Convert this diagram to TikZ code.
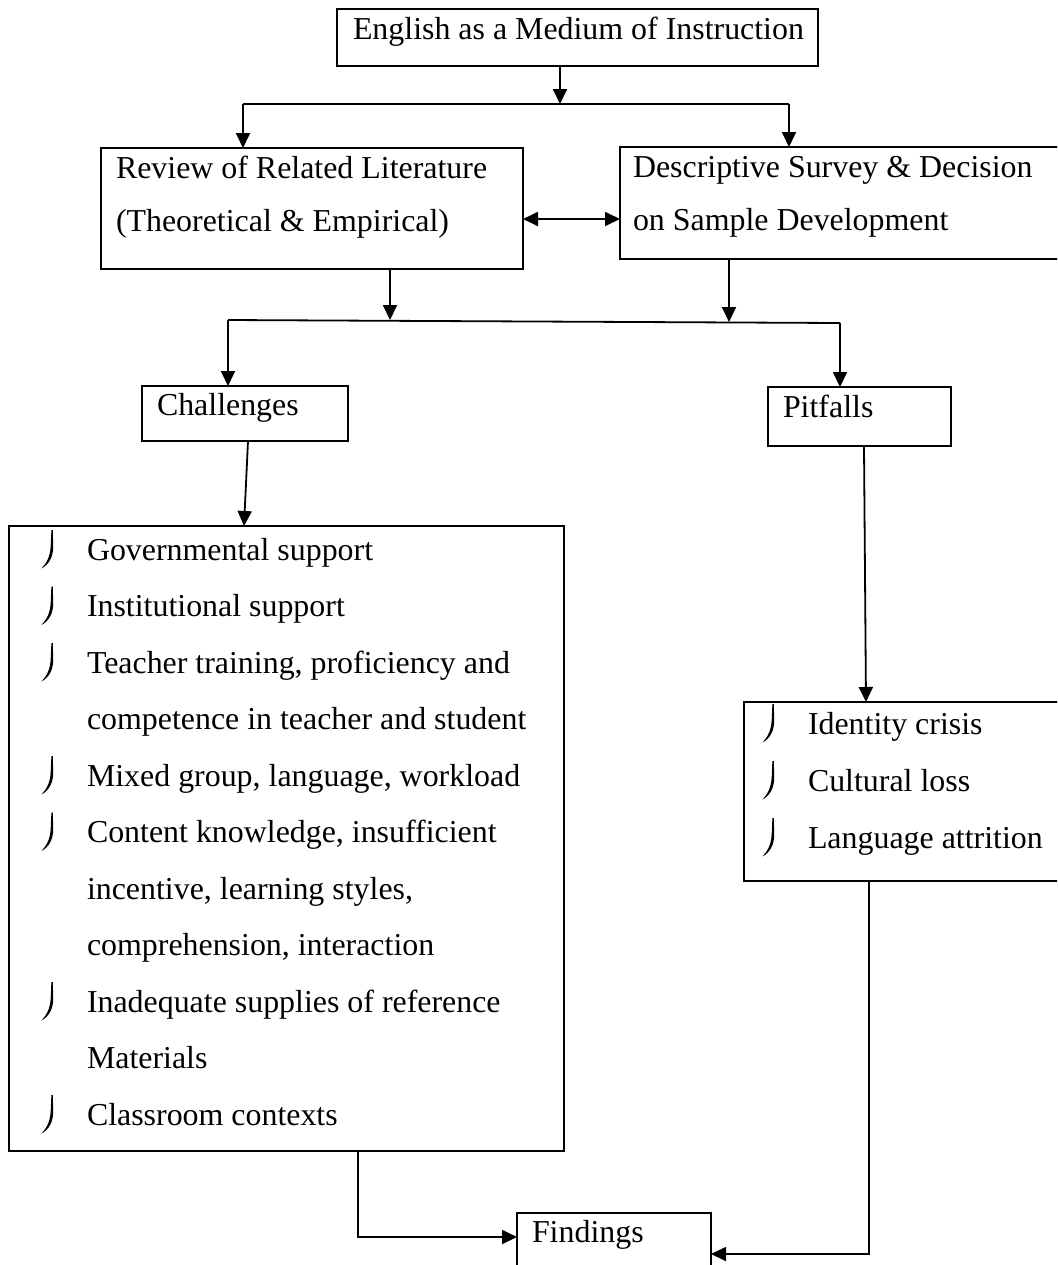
\documentclass[tikz,border=0pt]{standalone}
\usepackage{fontspec}
\setmainfont{Liberation Serif}
\usetikzlibrary{arrows.meta}
\tikzset{
  box/.style={draw, line width=0.6pt, inner sep=0pt, outer sep=0pt, anchor=north west},
  txt/.style={anchor=base west, inner sep=0pt, outer sep=0pt, font=\fontsize{15.95}{18}\selectfont},
  jbul/.pic={\fill (0.8,-30) -- (1.2,-14) .. controls (1.4,-2) and (-4,5) .. (-10.5,8.5)
     .. controls (-5.5,3) and (-1.8,-3) .. (-1.3,-14) -- (-0.6,-30) -- cycle;},
  conn/.style={line width=0.9pt},
  arr/.style={line width=0.9pt, -{Triangle[length=7.5pt,width=7pt]}},
  darr/.style={line width=0.9pt, {Triangle[length=7.5pt,width=7pt]}-{Triangle[length=7.5pt,width=7pt]}}
}
\begin{document}
\begin{tikzpicture}[x=0.5pt,y=-0.5pt]
\clip (0,0) rectangle (1057,1265);
% boxes
\node[box, minimum width=240.5pt, minimum height=28.5pt] (top) at (337,9) {};
\node[box, minimum width=211pt, minimum height=60.5pt] (rev) at (101,148) {};
\node[box, minimum width=221pt, minimum height=56pt] (desc) at (620,147) {};
\node[box, minimum width=103pt, minimum height=27.5pt] (chal) at (142,386) {};
\node[box, minimum width=91.5pt, minimum height=29.5pt] (pit) at (768,387) {};
\node[box, minimum width=277.5pt, minimum height=312.5pt] (list) at (9,526) {};
\node[box, minimum width=159pt, minimum height=89.5pt] (right) at (744,702) {};
\node[box, minimum width=97pt, minimum height=31pt] (find) at (517,1213) {};
% texts
\node[txt] (ttop) at (353,39) {English as a Medium of Instruction};
\node[txt] (trev1) at (116,178) {Review of Related Literature};
\node[txt] (trev2) at (116,231) {(Theoretical \& Empirical)};
\node[txt] (tdesc1) at (633,177) {Descriptive Survey \& Decision};
\node[txt] (tdesc2) at (633,230) {on Sample Development};
\node[txt] (tchal) at (157,415) {Challenges};
\node[txt] (tpit) at (783,417) {Pitfalls};
\node[txt] (tfind) at (532,1242) {Findings};
% list
\node[txt] (l1) at (87,560) {Governmental support};
\node[txt] (l2) at (87,616.5) {Institutional support};
\node[txt] (l3) at (87,673) {Teacher training, proficiency and};
\node[txt] (l4) at (87,729.5) {competence in teacher and student};
\node[txt] (l5) at (87,786) {Mixed group, language, workload};
\node[txt] (l6) at (87,842.5) {Content knowledge, insufficient};
\node[txt] (l7) at (87,899) {incentive, learning styles,};
\node[txt] (l8) at (87,955.5) {comprehension, interaction};
\node[txt] (l9) at (87,1012) {Inadequate supplies of reference};
\node[txt] (l10) at (87,1068.5) {Materials};
\node[txt] (l11) at (87,1125) {Classroom contexts};
\pic at (52,560) {jbul};
\pic at (52,616.5) {jbul};
\pic at (52,673) {jbul};
\pic at (52,786) {jbul};
\pic at (52,842.5) {jbul};
\pic at (52,1012) {jbul};
\pic at (52,1125) {jbul};
\node[txt] (r1) at (808,734) {Identity crisis};
\node[txt] (r2) at (808,791) {Cultural loss};
\node[txt] (r3) at (808,848) {Language attrition};
\pic at (773,734) {jbul};
\pic at (773,791) {jbul};
\pic at (773,848) {jbul};
% junction coordinates
\coordinate (j0) at (560,104);
\coordinate (jl) at (243,104);
\coordinate (jr) at (789,104);
\coordinate (m) at (570,219);
\coordinate (k1) at (390,320);
\coordinate (k2) at (729,322);
\coordinate (kl) at (228,320);
\coordinate (kr) at (840,323);
\coordinate (c1) at (248,441);
\coordinate (c2) at (244,526);
\coordinate (p1) at (864,446);
\coordinate (p2) at (866,702);
\coordinate (f1) at (358,1237);
\coordinate (f2) at (869,1254);
% connectors
\draw[arr] (top.south -| j0) -- (j0);
\draw[conn] (jl) -- (jr);
\draw[arr] (jl) -- (jl |- rev.north);
\draw[arr] (jr) -- (jr |- desc.north);
\draw[darr] (rev.east |- m) -- (desc.west |- m);
\draw[arr] (rev.south -| k1) -- (k1);
\draw[arr] (desc.south -| k2) -- (k2);
\draw[conn] (kl) -- (kr);
\draw[arr] (kl) -- (kl |- chal.north);
\draw[arr] (kr) -- (kr |- pit.north);
\draw[arr] (chal.south -| c1) -- (c2);
\draw[arr] (pit.south -| p1) -- (p2);
\draw[arr] (list.south -| f1) -- (f1) -- (f1 -| find.west);
\draw[arr] (right.south -| f2) -- (f2) -- (f2 -| find.east);
\end{tikzpicture}
\end{document}
